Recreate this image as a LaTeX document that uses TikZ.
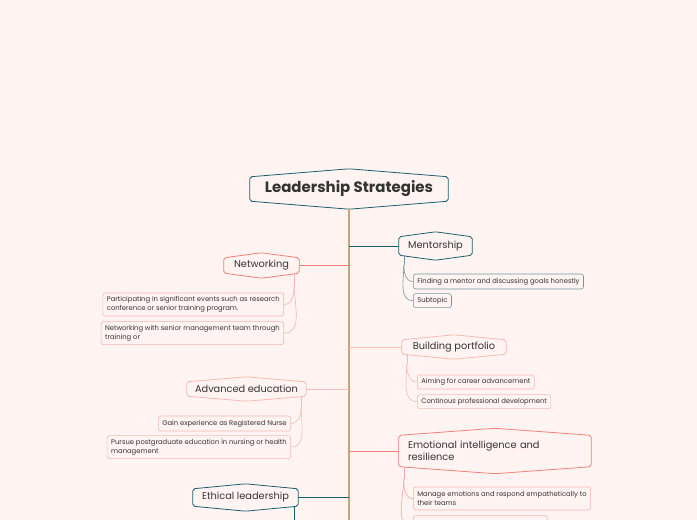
\documentclass[tikz,border=0pt]{standalone}
\usepackage{fontspec}
\setmainfont{Poppins}
\usetikzlibrary{positioning,calc}
\definecolor{bgpink}{RGB}{255,244,242}
\definecolor{deepteal}{RGB}{30,94,106}
\definecolor{softteal}{RGB}{112,152,160}
\definecolor{coral}{RGB}{240,128,122}
\definecolor{blush}{RGB}{248,186,178}
\definecolor{trunktan}{RGB}{200,166,110}
\definecolor{inkgray}{RGB}{51,51,51}

% outline of a topic: box with flat peaks on top and bottom
\newcommand{\hexframe}[3]{%
  \draw[#2, line width=0.8pt, rounded corners=2pt]
    (#1.north west) -- ([yshift=#3]#1.north) -- (#1.north east)
    -- (#1.south east) -- ([yshift=-#3]#1.south) -- (#1.south west) -- cycle;}

\begin{document}
\begin{tikzpicture}[x=1pt, y=-1pt,
  topic/.style={inner sep=0pt, align=center, text=inkgray, font=\fontsize{9.8}{12.5}\selectfont},
  subtopic/.style={draw, rounded corners=2.5pt, line width=0.6pt, inner xsep=4pt, inner ysep=0pt,
    align=left, text=inkgray, font=\fontsize{6.8}{8.6}\selectfont, anchor=west},
  link/.style={line width=0.8pt},
  twig/.style={line width=0.6pt}
]
\fill[bgpink] (0,0) rectangle (697,520);
\useasboundingbox (0,0) rectangle (697,520);

% central topic and trunk
\node[topic, font=\fontsize{15}{18}\selectfont\bfseries, minimum width=198pt, minimum height=24pt] (root) at (349,189) {Leadership Strategies};
\hexframe{root}{deepteal}{8pt}
\coordinate (trunk top) at ([yshift=-8pt]root.south);
\coordinate (trunk end) at (349,522);
\draw[trunktan, line width=1.2pt] (trunk top) -- (trunk end);

% main topics
\node[topic, minimum width=73pt, minimum height=18pt] (ment) at (435.5,246) {Mentorship};
\node[topic, minimum width=104pt, minimum height=14pt] (port) at (454,347) {Building portfolio};
\node[topic, minimum width=192pt, minimum height=31pt, text width=174pt, align=left] (emo) at (495,451) {Emotional intelligence and\\resilience};
\node[topic, minimum width=75pt, minimum height=15pt] (net) at (261.5,265.5) {Networking};
\node[topic, minimum width=119pt, minimum height=14pt] (adv) at (246.5,389) {Advanced education};
\node[topic, minimum width=105pt, minimum height=17pt] (eth) at (245.5,497.5) {Ethical leadership};

\foreach \n/\c in {ment/deepteal, eth/deepteal, net/coral, port/blush, adv/blush}
  \hexframe{\n}{\c}{5pt};
\hexframe{emo}{coral}{7pt}

\draw[link, deepteal] (ment.west -| trunk top) -- (ment.west);
\draw[link, blush] (port.west -| trunk top) -- (port.west);
\draw[link, coral] (emo.west -| trunk top) -- (emo.west);
\draw[link, coral] (net.east -| trunk top) -- (net.east);
\draw[link, blush] (adv.east -| trunk top) -- (adv.east);
\draw[link, deepteal] (eth.east -| trunk top) -- (eth.east);

% subtopics
\node[subtopic, softteal, minimum height=15pt] (m1) at (413,281.5) {\color{inkgray}Finding a mentor and discussing goals honestly};
\node[subtopic, softteal, minimum height=14pt, below=4pt of m1.south west, anchor=north west] (m2) {\color{inkgray}Subtopic};

\node[subtopic, blush, minimum height=14pt] (b1) at (417,382) {\color{inkgray}Aiming for career advancement};
\node[subtopic, blush, minimum height=14pt, below=5pt of b1.south west, anchor=north west] (b2) {\color{inkgray}Continous professional development};

\node[subtopic, coral!60, minimum height=23pt] (e1) at (413,498.5) {\color{inkgray}Manage emotions and respond empathetically to\\\color{inkgray}their teams};
\node[subtopic, coral!60, minimum width=134pt, minimum height=23pt, below=5pt of e1.south west, anchor=north west] (e2) {};

\node[subtopic, coral!60, minimum height=23pt, anchor=east] (n1) at (284,304.5) {\color{inkgray}Participating in significant events such as research\\\color{inkgray}conference or senior training program.};
\node[subtopic, coral!60, minimum height=23pt, below=5pt of n1.south east, anchor=north east] (n2) {\color{inkgray}Networking with senior management team through\\\color{inkgray}training or};

\node[subtopic, blush, minimum height=15pt, anchor=east] (a1) at (291,423.5) {\color{inkgray}Gain experience as Registered Nurse};
\node[subtopic, blush, minimum height=23pt, below=4pt of a1.south east, anchor=north east] (a2) {\color{inkgray}Pursue postgraduate education in nursing or health\\\color{inkgray}management};

% twigs from topics to subtopics
\draw[twig, softteal] ([xshift=5pt]ment.south west) -- ++(0,10) coordinate (ms);
\draw[twig, softteal] (ms) to[out=-90, in=180] (m1.west);
\draw[twig, softteal] (ms) to[out=-90, in=180] (m2.west);

\draw[twig, blush] ([xshift=5pt]port.south west) -- ++(0,10) coordinate (ps);
\draw[twig, blush] (ps) to[out=-90, in=180] (b1.west);
\draw[twig, blush] (ps) to[out=-90, in=180] (b2.west);

\draw[twig, coral!70] ([xshift=5pt]emo.south west) -- ++(0,12) coordinate (es);
\draw[twig, coral!70] (es) to[out=-90, in=180] (e1.west);
\draw[twig, coral!70] (es) to[out=-90, in=180] (e2.west);

\draw[twig, coral!60] ([xshift=-5pt]net.south east) -- ++(0,12) coordinate (ns);
\draw[twig, coral!60] (ns) to[out=-90, in=0] (n1.east);
\draw[twig, coral!60] (ns) to[out=-90, in=0] (n2.east);

\draw[twig, blush] ([xshift=-5pt]adv.south east) -- ++(0,12) coordinate (as);
\draw[twig, blush] (as) to[out=-90, in=0] (a1.east);
\draw[twig, blush] (as) to[out=-90, in=0] (a2.east);

\draw[twig, deepteal] ([xshift=-4pt]eth.south east) -- ++(0,20) coordinate (ths);
\end{tikzpicture}
\end{document}
